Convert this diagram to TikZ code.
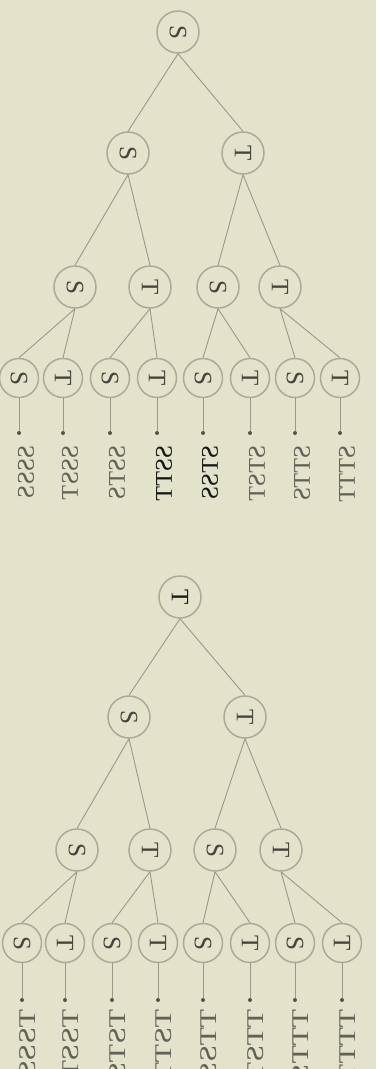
\documentclass[tikz,border=0pt]{standalone}
\usepackage{fontspec}
\setmainfont{Liberation Serif}
\usepackage{tikz}
\usetikzlibrary{positioning}
\usepackage{xcolor}
\definecolor{bgPaper}{HTML}{E3E2CA}
\definecolor{ringGray}{HTML}{ABAA97}
\definecolor{edgeGray}{HTML}{9A9987}
\definecolor{dotGray}{HTML}{55544B}
\definecolor{letterGray}{HTML}{45443D}
\definecolor{seqGray}{HTML}{626158}
\definecolor{seqInk}{HTML}{161616}

% letters turned a quarter clockwise; sequences also mirrored
\newcommand{\cw}[1]{\rotatebox{-90}{#1}}
\newcommand{\cwm}[2][1]{\rotatebox{-90}{\scalebox{#1}[-1]{#2}}}

\begin{document}
\begin{tikzpicture}[
      x=1pt, y=-1pt,
      state/.style={circle, draw=ringGray, line width=1.5pt, minimum size=42pt,
                  inner sep=0pt, text=letterGray, font=\fontsize{25}{25}\selectfont},
      leaf/.style={state, minimum size=39pt},
      edge/.style={draw=edgeGray, line width=0.9pt},
      tip/.style={circle, fill=dotGray, inner sep=0pt, minimum size=4pt},
      seq/.style={anchor=north, inner sep=0pt, font=\fontsize{24}{24}\selectfont},
    ]

    % ---------- paper ----------
    \fill[bgPaper] (0,0) rectangle (376,1069);
    \useasboundingbox (0,0) rectangle (376,1069);

    % ---------- tree starting with S ----------
    \node[state] (S)   at (178,32)  {\cw{S}};
    \node[state] (SS)  at (128,153) {\cw{S}};
    \node[state] (ST)  at (243,153) {\cw{T}};
    \node[state] (SSS) at (75,287)  {\cw{S}};
    \node[state] (SST) at (150,287) {\cw{T}};
    \node[state] (STS) at (218,287) {\cw{S}};
    \node[state] (STT) at (280,287) {\cw{T}};

    \foreach \nm/\x/\c/\ink in {SSSS/19/S/seqGray, SSST/63/T/seqGray, SSTS/110/S/seqGray,
                                SSTT/157/T/seqInk, STSS/203/S/seqInk, STST/250/T/seqGray,
                                STTS/295/S/seqGray, STTT/340/T/seqGray}{
      \node[leaf] (\nm) at (\x,378) {\cw{\c}};
      \node[tip] (d\nm) at (\x,433) {};
      \draw[edge] (\nm.south) -- (d\nm);
      \node[seq, text=\ink] (l\nm) at (\x+7,445) {\cwm{\nm}};
    }

    \draw[edge] (S.south) -- (SS.north) (S.south) -- (ST.north)
                (SS.south) -- (SSS.north) (SS.south) -- (SST.north)
                (ST.south) -- (STS.north) (ST.south) -- (STT.north)
                (SSS.south) -- (SSSS.north) (SSS.south) -- (SSST.north)
                (SST.south) -- (SSTS.north) (SST.south) -- (SSTT.north)
                (STS.south) -- (STSS.north) (STS.south) -- (STST.north)
                (STT.south) -- (STTS.north) (STT.south) -- (STTT.north);

    % ---------- tree starting with T ----------
    \node[state, text=seqInk] (T) at (180,597) {\cw{T}};
    \node[state] (TS)  at (129,717) {\cw{S}};
    \node[state] (TT)  at (245,717) {\cw{T}};
    \node[state] (TSS) at (77,850)  {\cw{S}};
    \node[state] (TST) at (150,850) {\cw{T}};
    \node[state] (TTS) at (215,850) {\cw{S}};
    \node[state] (TTT) at (281,850) {\cw{T}};

    \foreach \nm/\x/\c in {TSSS/22/S, TSST/65/T, TSTS/112/S, TSTT/158/T,
                           TTSS/203/S, TTST/250/T, TTTS/295/S, TTTT/342/T}{
      \node[leaf] (\nm) at (\x,943) {\cw{\c}};
      \node[tip] (d\nm) at (\x,1000) {};
      \draw[edge] (\nm.south) -- (d\nm);
      \node[seq, text=seqGray] (l\nm) at (\x+6,1009) {\cwm[1.25]{\nm}};
    }

    \draw[edge] (T.south) -- (TS.north) (T.south) -- (TT.north)
                (TS.south) -- (TSS.north) (TS.south) -- (TST.north)
                (TT.south) -- (TTS.north) (TT.south) -- (TTT.north)
                (TSS.south) -- (TSSS.north) (TSS.south) -- (TSST.north)
                (TST.south) -- (TSTS.north) (TST.south) -- (TSTT.north)
                (TTS.south) -- (TTSS.north) (TTS.south) -- (TTST.north)
                (TTT.south) -- (TTTS.north) (TTT.south) -- (TTTT.north);

  \end{tikzpicture}
\end{document}
